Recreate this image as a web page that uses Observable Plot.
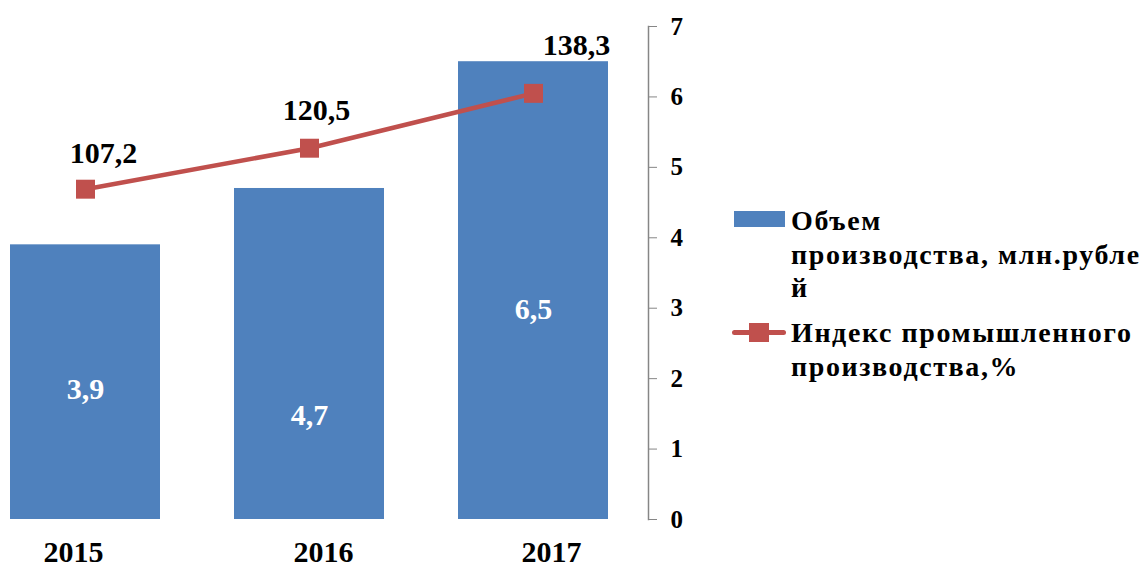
<!DOCTYPE html>
<html>
<head>
<meta charset="utf-8">
<script src="https://cdn.jsdelivr.net/npm/d3@7"></script>
<script src="https://cdn.jsdelivr.net/npm/@observablehq/plot@0.6"></script>
<style>
  html, body { margin: 0; padding: 0; background: #fff; }
  #wrap { position: relative; width: 1143px; height: 569px; overflow: hidden; }
  .lg { position: absolute; font-family: "Liberation Serif", "Times New Roman", serif; font-weight: bold; font-size: 28px; letter-spacing: 1.6px; line-height: 33.5px; color: #000; white-space: nowrap; }
</style>
</head>
<body>
<div id="wrap">
  <div id="chart"></div>
  <div style="position:absolute;left:734px;top:211px;width:51px;height:16px;background:#4F81BD"></div>
  <div class="lg" id="lg1" style="left:791px;top:204px"></div>
  <div style="position:absolute;left:732px;top:330px;width:54px;height:5px;background:#C0504D;border-radius:2.5px"></div>
  <div style="position:absolute;left:749px;top:323px;width:20px;height:19px;background:#C0504D"></div>
  <div class="lg" id="lg2" style="left:791px;top:316px"></div>
</div>
<script>
const years = ["2015", "2016", "2017"];
const volume = [3.9, 4.7, 6.5];            // Объем производства, млн.рублей
const industrialIndex = [107.2, 120.5, 138.3]; // Индекс промышленного производства, %
const rightAxisTicks = [0, 1, 2, 3, 4, 5, 6, 7];
const volumeLabels = ["3,9", "4,7", "6,5"];
const indexLabels = ["107,2", "120,5", "138,3"];
const legendVolume = ["Объем", "производства, млн.рубле", "й"];
const legendIndex = ["Индекс промышленного", "производства,%"];
const indexAxisMax = 160; // hidden secondary axis 0..160
const volumeAxisMax = 7;

const rows = years.map((y, i) => ({
  year: y, volume: volume[i], index: industrialIndex[i],
  vLabel: volumeLabels[i], iLabel: indexLabels[i],
  iy: industrialIndex[i] * volumeAxisMax / indexAxisMax
}));

const font = '"Liberation Serif", "Times New Roman", serif';
const barLabelDy = {"2015": 7, "2016": 61, "2017": 19};
const lineLabelOff = {"2015": [18, -36], "2016": [7, -38], "2017": [43, -48]};
const yearDx = {"2015": -12, "2016": 14, "2017": 18};

const marks = [
  Plot.barY(rows, {x: "year", y: "volume", fill: "#4F81BD"}),
  ...years.map(yr => Plot.text(rows, {filter: d => d.year === yr, x: "year", y: d => d.volume / 2, text: "vLabel",
    dy: barLabelDy[yr], fill: "white", fontSize: 30, fontWeight: "bold", fontFamily: font})),
  Plot.line(rows, {x: "year", y: "iy", stroke: "#C0504D", strokeWidth: 4.5}),
  Plot.dot(rows, {x: "year", y: "iy", symbol: "square", r: 10.7, fill: "#C0504D", stroke: "none"}),
  ...years.map(yr => Plot.text(rows, {filter: d => d.year === yr, x: "year", y: "iy", text: "iLabel",
    dx: lineLabelOff[yr][0], dy: lineLabelOff[yr][1], fill: "black", fontSize: 30, fontWeight: "bold", fontFamily: font})),
  ...years.map(yr => Plot.text(rows, {filter: d => d.year === yr, x: "year", frameAnchor: "bottom", text: "year",
    dx: yearDx[yr], dy: 42, fill: "black", fontSize: 30, fontWeight: "bold", fontFamily: font})),
  Plot.frame({anchor: "right", stroke: "#868686", strokeWidth: 1.5}),
  Plot.axisY({anchor: "right", ticks: rightAxisTicks, tickFormat: d => String(d), tickSize: 8, tickPadding: 14,
    stroke: "#868686", fill: "black", fontSize: 25, fontWeight: "bold", fontFamily: font})
];

const chart = Plot.plot({
  width: 1143,
  height: 569,
  marginTop: 26,
  marginBottom: 50,
  marginLeft: 0,
  marginRight: 495,
  style: {fontFamily: font, background: "white", overflow: "visible"},
  x: {type: "band", domain: years, paddingInner: 0.33, paddingOuter: 0.11, align: 0.2, axis: null},
  y: {domain: [0, volumeAxisMax], axis: null},
  marks
});
document.getElementById("chart").appendChild(chart);
document.getElementById("lg1").innerHTML = legendVolume.join("<br>");
document.getElementById("lg2").innerHTML = legendIndex.join("<br>");
</script>
</body>
</html>
